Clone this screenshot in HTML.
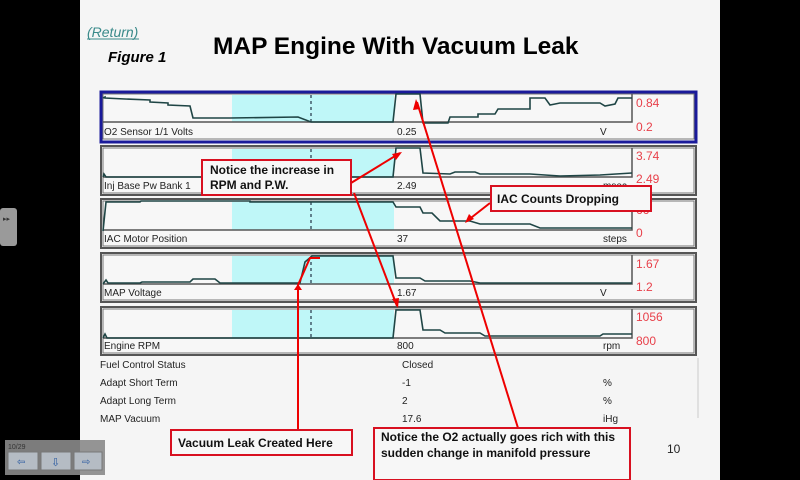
<!DOCTYPE html>
<html><head><meta charset="utf-8"><style>
body{margin:0;background:#000;width:800px;height:480px;overflow:hidden}
svg{display:block}
text{font-family:"Liberation Sans",Arial,sans-serif}
</style></head><body>
<svg width="800" height="480" viewBox="0 0 800 480">
<rect x="0" y="0" width="800" height="480" fill="#000"/>
<rect x="80" y="0" width="640" height="480" fill="#f5f5f5"/>
<rect x="0" y="208" width="17" height="38" rx="3" fill="#9a9a9a"/>
<text x="3" y="221" font-size="7" fill="#333">▸▸</text>
<text x="87" y="37" font-size="14" font-style="italic" fill="#3a8a8a">(Return)</text>
<line x1="87" y1="39" x2="139" y2="39" stroke="#3a8a8a" stroke-width="1"/>
<text x="108" y="62" font-size="15" font-weight="bold" font-style="italic" fill="#000">Figure 1</text>
<text x="213" y="54" font-size="24.5" font-weight="bold" fill="#000">MAP Engine With Vacuum Leak</text>
<g fill="#f7f7f7" stroke="#555" stroke-width="2">
<rect x="101" y="146" width="595" height="49"/>
<rect x="101" y="199" width="595" height="49"/>
<rect x="101" y="253" width="595" height="49"/>
<rect x="101" y="307" width="595" height="48"/>
</g>
<rect x="101" y="92" width="595" height="50" fill="#f7f7f7" stroke="#1a1a9a" stroke-width="3"/>
<g fill="none" stroke="#777" stroke-width="1">
<rect x="103" y="94" width="591" height="45"/>
<rect x="103" y="148" width="591" height="45"/>
<rect x="103" y="201" width="591" height="45"/>
<rect x="103" y="255" width="591" height="45"/>
<rect x="103" y="309" width="591" height="44"/>
</g>
<g fill="#bff7f8">
<rect x="232" y="95" width="162" height="27"/>
<rect x="232" y="149" width="162" height="28"/>
<rect x="232" y="202" width="162" height="28"/>
<rect x="232" y="256" width="162" height="28"/>
<rect x="232" y="310" width="162" height="28"/>
</g>
<g stroke="#555" stroke-width="1.5" fill="none">
<polyline points="103,122 632,122 632,94"/>
<polyline points="103,177 632,177 632,148"/>
<polyline points="103,230 632,230 632,201"/>
<polyline points="103,284 632,284 632,255"/>
<polyline points="103,338 632,338 632,309"/>
</g>
<g stroke="#234" stroke-width="1.2" stroke-dasharray="3,3">
<line x1="311" y1="95" x2="311" y2="122"/>
<line x1="311" y1="149" x2="311" y2="177"/>
<line x1="311" y1="202" x2="311" y2="230"/>
<line x1="311" y1="256" x2="311" y2="284"/>
<line x1="311" y1="310" x2="311" y2="338"/>
</g>
<g stroke="#1f4545" stroke-width="1.6" fill="none">
<polyline points="103,98 105,97 105,98 125,99 150,100 150,102 168,103 168,105 190,106 193,118 230,118 298,117 311,122 393,122 396,94 420,94 423,123 448,123 450,117 478,117 478,114 495,114 498,109 530,109 530,98 545,98 550,105 560,103 600,103 605,106 615,104 618,98 632,98"/>
<polyline points="103,177 104,174 106,177 393,177 396,148 420,148 423,173 450,174 455,172 475,172 480,174 530,174 560,176 600,175 632,173"/>
<polyline points="103,231 106,202 140,202 141,201 250,201 250,202 393,202 396,207 420,207 423,213 432,213 440,221 470,221 480,224 530,224 540,228 632,228"/>
<polyline points="103,284 106,280 108,283 140,283 142,282 190,282 193,279 215,279 220,283 300,283 305,262 312,256 393,256 396,278 420,278 425,281 470,281 480,283 632,283"/>
<polyline points="103,338 105,334 107,338 393,338 396,310 420,310 423,330 440,330 445,333 480,333 485,336 600,336 603,334 632,334"/>
</g>
<g font-size="10" fill="#222">
<text x="104" y="135">O2 Sensor 1/1 Volts</text>
<text x="397" y="135">0.25</text>
<text x="600" y="135">V</text>
<text x="104" y="189">Inj Base Pw Bank 1</text>
<text x="397" y="189">2.49</text>
<text x="603" y="189">msec</text>
<text x="104" y="242">IAC Motor Position</text>
<text x="397" y="242">37</text>
<text x="603" y="242">steps</text>
<text x="104" y="296">MAP Voltage</text>
<text x="397" y="296">1.67</text>
<text x="600" y="296">V</text>
<text x="104" y="349">Engine RPM</text>
<text x="397" y="349">800</text>
<text x="603" y="349">rpm</text>
<text x="100" y="368">Fuel Control Status</text>
<text x="402" y="368">Closed</text>
<text x="100" y="386">Adapt Short Term</text>
<text x="402" y="386">-1</text>
<text x="603" y="386">%</text>
<text x="100" y="404">Adapt Long Term</text>
<text x="402" y="404">2</text>
<text x="603" y="404">%</text>
<text x="100" y="422">MAP Vacuum</text>
<text x="402" y="422">17.6</text>
<text x="603" y="422">iHg</text>
</g>
<line x1="698" y1="358" x2="698" y2="418" stroke="#ccc" stroke-width="1"/>
<g font-size="12" fill="#e8404a">
<text x="636" y="107">0.84</text>
<text x="636" y="131">0.2</text>
<text x="636" y="160">3.74</text>
<text x="636" y="183">2.49</text>
<text x="636" y="214">66</text>
<text x="636" y="237">0</text>
<text x="636" y="268">1.67</text>
<text x="636" y="291">1.2</text>
<text x="636" y="321">1056</text>
<text x="636" y="345">800</text>
</g>
<g stroke="#e00" stroke-width="2" fill="none">
<line x1="351" y1="183" x2="400" y2="153"/>
<line x1="354" y1="193" x2="397" y2="306"/>
<line x1="518" y1="428" x2="417" y2="102"/>
<line x1="490" y1="203" x2="467" y2="221"/>
<polyline points="298,430 298,285 310,258 320,258"/>
</g>
<g fill="#e00">
<polygon points="402,152 392,154 396,160"/>
<polygon points="398,308 392,299 399,298"/>
<polygon points="416,99 413,110 420,109"/>
<polygon points="465,223 469,214 474,219"/>
<polygon points="298,284 294,290 302,290"/>
</g>
<g fill="#f7f7f7" stroke="#d81020" stroke-width="2">
<rect x="202" y="160" width="149" height="35"/>
<rect x="491" y="186" width="160" height="25"/>
<rect x="171" y="430" width="181" height="25"/>
<rect x="374" y="428" width="256" height="52"/>
</g>
<g font-size="12" font-weight="bold" fill="#111">
<text x="210" y="174">Notice the increase in</text>
<text x="210" y="189">RPM and P.W.</text>
<text x="497" y="203">IAC  Counts Dropping</text>
<text x="178" y="447">Vacuum Leak Created Here</text>
<text x="381" y="441">Notice the O2 actually goes rich with this</text>
<text x="381" y="457">sudden change in manifold pressure</text>
</g>
<text x="667" y="453" font-size="12" fill="#222">10</text>
<rect x="5" y="440" width="100" height="35" fill="#8a8a8a" opacity="0.9"/>
<text x="8" y="449" font-size="7" fill="#333">10/29</text>
<rect x="8" y="452" width="30" height="18" fill="#b5bcc4" stroke="#777"/>
<rect x="41" y="452" width="30" height="18" fill="#b5bcc4" stroke="#777"/>
<rect x="74" y="452" width="28" height="18" fill="#b5bcc4" stroke="#777"/>
<text x="17" y="465" font-size="10" fill="#2a5aa0">⇦</text>
<text x="51" y="466" font-size="11" fill="#2a5aa0">⇩</text>
<text x="82" y="465" font-size="10" fill="#2a5aa0">⇨</text>
</svg>
</body></html>
